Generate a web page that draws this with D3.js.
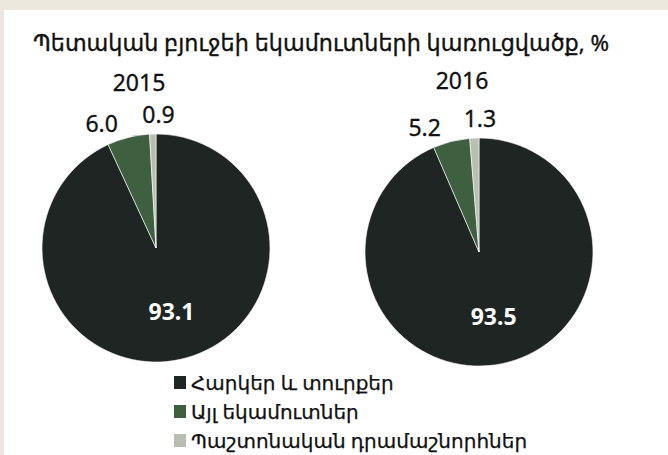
<!DOCTYPE html>
<html><head><meta charset="utf-8">
<script src="https://cdn.jsdelivr.net/npm/d3@7"></script>
<style>
html,body{margin:0;padding:0;background:#ece8dd;}
svg{display:block;}
text{font-family:"Noto Sans","DejaVu Sans",sans-serif;}
</style></head>
<body>
<svg id="c" width="668" height="455"></svg>
<script>
const title = "Պետական բյուջեի եկամուտների կառուցվածք, %";
const categories = ["Հարկեր և տուրքեր", "Այլ եկամուտներ", "Պաշտոնական դրամաշնորհներ"];
const years = ["2015", "2016"];
const values2015 = [93.1, 6.0, 0.9];
const values2016 = [93.5, 5.2, 1.3];
const colors = ["#1f2522", "#3e5f40", "#b8bfb0"];

const svg = d3.select("#c");
svg.append("rect").attr("x", 0).attr("y", 0).attr("width", 668).attr("height", 455).attr("fill", "#ece8dd");
svg.append("rect").attr("x", 4).attr("y", 10).attr("width", 664).attr("height", 445).attr("fill", "#ffffff");

svg.append("text").attr("x", 321).attr("y", 51).attr("text-anchor", "middle")
  .attr("font-size", 22.3).attr("fill", "#111").attr("stroke", "#111").attr("stroke-width", 0.35)
  .text(title);

const color = d3.scaleOrdinal().domain(categories).range(colors);
const pie = d3.pie().sort(null).value(d => d.v);
const r = 114;
const arc = d3.arc().innerRadius(0).outerRadius(r);
const outer = d3.arc().innerRadius(120).outerRadius(120);
const inner = d3.arc().innerRadius(72).outerRadius(72);

const pies = [
  {year: years[0], vals: values2015, cx: 156, cy: 248},
  {year: years[1], vals: values2016, cx: 479, cy: 252}
];

function label(g, x, y, anchor, txt) {
  g.append("text").attr("x", x).attr("y", y).attr("text-anchor", anchor)
    .attr("font-size", 23).attr("fill", "#111").attr("stroke", "#111").attr("stroke-width", 0.3)
    .text(txt);
}

pies.forEach(p => {
  const data = pie(p.vals.map((v, i) => ({v, c: categories[i]})));
  const g = svg.append("g").attr("transform", `translate(${p.cx},${p.cy})`);
  g.selectAll("path").data(data).join("path")
    .attr("d", arc).attr("fill", d => color(d.data.c))
    .attr("stroke", "#ffffff").attr("stroke-width", 0.6);
  label(g, -17, -r - 43 - (p.cy - 248) * 1.5, "middle", p.year);
  // big label
  const c0 = inner.centroid(data[0]);
  g.append("text").attr("x", c0[0]).attr("y", c0[1] + 2).attr("text-anchor", "middle")
    .attr("font-size", 23).attr("font-weight", "bold").attr("fill", "#ffffff")
    .attr("font-family", "Liberation Sans, Arial, sans-serif")
    .text(data[0].data.v.toFixed(1));
  const c1 = outer.centroid(data[1]);
  label(g, c1[0] - 9, c1[1], "end", data[1].data.v.toFixed(1));
  const c2 = d3.arc().innerRadius(125).outerRadius(125).centroid(data[2]);
  label(g, c2[0] + 6, c2[1], "middle", data[2].data.v.toFixed(1));
});

const lg = svg.append("g").attr("transform", "translate(174,376)");
const rows = lg.selectAll("g").data(categories).join("g")
  .attr("transform", (d, i) => `translate(0,${i * 29})`);
rows.append("rect").attr("width", 12).attr("height", 13).attr("fill", d => color(d));
rows.append("text").attr("x", 17).attr("y", 14).attr("font-size", 20).attr("fill", "#111")
  .attr("stroke", "#111").attr("stroke-width", 0.25).text(d => d);
</script>
</body></html>
